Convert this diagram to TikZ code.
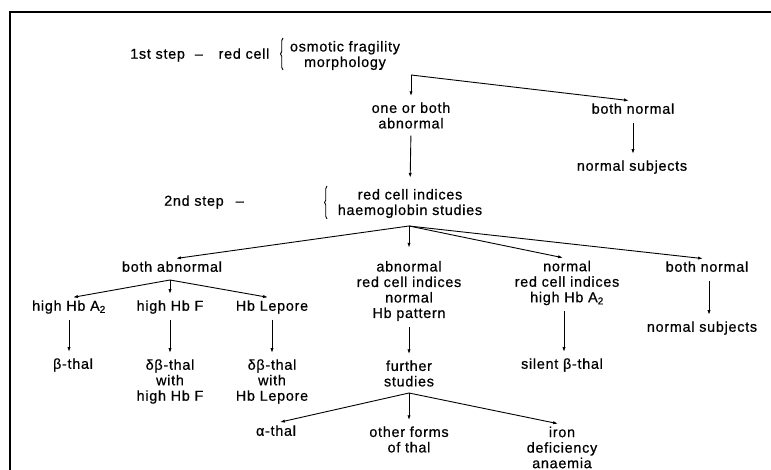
\documentclass[tikz,border=0pt]{standalone}
\usepackage{fontspec}
\setmainfont{Liberation Sans}[LetterSpace=5, FakeBold=0.6]
\usetikzlibrary{arrows.meta,decorations.pathreplacing}
\newcommand{\fsz}{\fontsize{14.4}{15.5}\selectfont}
\begin{document}
\begin{tikzpicture}[x=1pt,y=-1pt,
  t/.style={inner sep=2pt, font=\fsz, text height=10.5pt, text depth=3pt},
  m/.style={inner sep=2pt, font=\fsz, align=center},
  arr/.style={-{Latex[length=5pt,width=3.2pt]}, line width=0.9pt},
  fan/.style={arr, shorten >=4pt},
  vert/.style={arr, shorten <=4pt, shorten >=4pt},
  brc/.style={decorate, decoration={brace, amplitude=2.5pt}, line width=0.9pt}]
\useasboundingbox (0,0) rectangle (771,470);
\draw[line width=1.3pt] (10,470) -- (10,12) -- (771,12);

% first step
\node[t, anchor=west] (step1) at (128,55) {1st step\hspace{10pt}–};
\node[t] (redcell) at (244,55) {red cell};
\node[m] (tests1) at (345,55.5) {osmotic fragility\\morphology};
\coordinate (bar1a) at (283,38);
\coordinate (bar1b) at (283,70);
\draw[brc] (bar1b) -- (bar1a);

\coordinate (b1) at (411,75);
\node[m] (abn1) at (411,115.5) {one or both\\abnormal};
\node[t] (norm1) at (633,110) {both normal};
\node[t] (subj1) at (632,167) {normal subjects};

% second step
\node[t, anchor=west] (step2) at (162,202) {2nd step\hspace{12pt}–};
\node[m] (tests2) at (410,203.5) {red cell indices\\haemoglobin studies};
\coordinate (bar2a) at (327,186);
\coordinate (bar2b) at (327,219);
\draw[brc] (bar2b) -- (bar2a);

\coordinate (b2) at (409,226);
\node[t] (bothab) at (172,268) {both abnormal};
\node[m] (mid) at (409,291) {abnormal\\red cell indices\\normal\\Hb pattern};
\node[m] (nrci) at (567,283) {normal\\red cell indices\\high Hb A\textsubscript{2}};
\node[t] (bothn2) at (707,268) {both normal};

\coordinate (b3) at (170,280);
\node[t] (hba2) at (69,307) {high Hb A\textsubscript{2}};
\node[t] (hbf) at (170,307) {high Hb F};
\node[t] (lep) at (272,307) {Hb Lepore};

\node[t] (bthal) at (73,365) {β-thal};
\node[m] (dbf) at (170,381.5) {δβ-thal\\with\\high Hb F};
\node[m] (dbl) at (272,381.5) {δβ-thal\\with\\Hb Lepore};
\node[m] (further) at (409,373.5) {further\\studies};
\node[t] (silent) at (562,365) {silent β-thal};
\node[t] (subj2) at (702,328) {normal subjects};

\coordinate (b4) at (409,393);
\node[t] (athal) at (276,432) {α-thal};
\node[m] (other) at (409,439.5) {other forms\\of thal};
\node[m] (iron) at (562,447.5) {iron\\deficiency\\anaemia};

% connectors
\draw[fan] (b1) -- (abn1.north);
\draw[fan] (b1) -- (norm1.north);
\draw[vert] (norm1.south) -- (norm1.south |- subj1.north);
\draw[arr, shorten <=5pt, shorten >=9pt] (abn1.south) -- (tests2.north);

\draw[fan] (b2) -- (bothab.north);
\draw[arr, shorten >=11pt] (b2) -- (mid.north);
\draw[fan] (b2) -- (nrci.north);
\draw[fan] (b2) -- (bothn2.north);

\draw[fan] (b3) -- (hba2.north);
\draw[fan] (b3) -- (hbf.north);
\draw[fan] (b3) -- (lep.north);

\draw[vert] (hba2.south) -- (hba2.south |- bthal.north);
\draw[vert] (hbf.south) -- (dbf.north);
\draw[vert] (lep.south) -- (dbl.north);
\draw[vert] (mid.south) -- (further.north);
\draw[vert] ([xshift=-3pt]nrci.south) -- ([xshift=-3pt]nrci.south |- silent.north);
\draw[vert] ([xshift=2pt]bothn2.south) -- ([xshift=2pt]bothn2.south |- subj2.north);

\draw[fan] (b4) -- (athal.north);
\draw[fan] (b4) -- (other.north);
\draw[fan] (b4) -- (iron.north);
\end{tikzpicture}
\end{document}
